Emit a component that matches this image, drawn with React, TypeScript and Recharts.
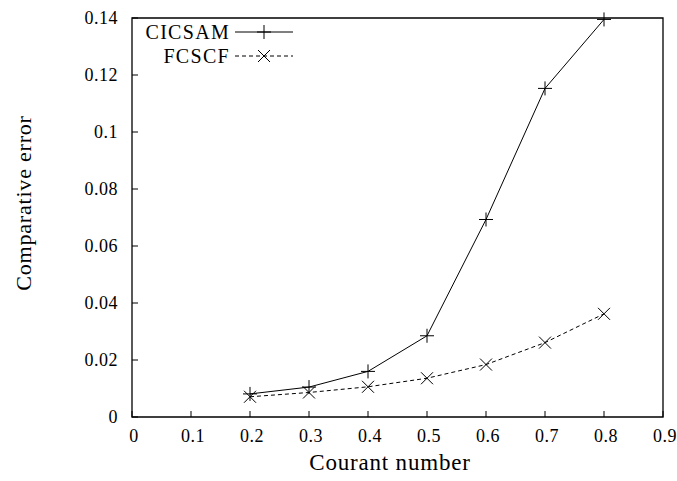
import React from 'react';
import { LineChart, Line, XAxis, YAxis, Legend, ReferenceArea } from 'recharts';

const courant = [0.2, 0.3, 0.4, 0.5, 0.6, 0.7, 0.8];
const cicsam = [0.0081, 0.0105, 0.016, 0.0285, 0.0693, 0.1153, 0.1395];
const fcscf = [0.0071, 0.0086, 0.0106, 0.0136, 0.0184, 0.0261, 0.0362];
const xTicks = [0, 0.1, 0.2, 0.3, 0.4, 0.5, 0.6, 0.7, 0.8, 0.9];
const yTicks = [0, 0.02, 0.04, 0.06, 0.08, 0.1, 0.12, 0.14];
const seriesNames = ['CICSAM', 'FCSCF'];

const data = courant.map((c, i) => ({ x: c, cicsam: cicsam[i], fcscf: fcscf[i] }));

const FONT = '"Liberation Serif", "DejaVu Serif", serif';
const TICK_LEN = 6;

const fmtX = (v: number) => (v === 0 ? '0' : v.toFixed(1));
const fmtY = (v: number) => (v === 0 ? '0' : String(Number(v.toFixed(2))));

const BottomTick = (p: any) => (
  <g>
    <line x1={p.x} y1={p.y} x2={p.x} y2={p.y - TICK_LEN} stroke="#000" strokeWidth={1} />
    <text x={p.x + 2} y={p.y + 25} textAnchor="middle" fontSize={18} letterSpacing={0.5} fontFamily={FONT} fill="#000">
      {fmtX(p.payload.value)}
    </text>
  </g>
);
const TopTick = (p: any) => (
  <line x1={p.x} y1={p.y} x2={p.x} y2={p.y + TICK_LEN} stroke="#000" strokeWidth={1} />
);
const LeftTick = (p: any) => (
  <g>
    <line x1={p.x} y1={p.y} x2={p.x + TICK_LEN} y2={p.y} stroke="#000" strokeWidth={1} />
    <text x={p.x - 14} y={p.y + 6} textAnchor="end" fontSize={18} letterSpacing={0.5} fontFamily={FONT} fill="#000">
      {fmtY(p.payload.value)}
    </text>
  </g>
);
const RightTick = (p: any) => (
  <line x1={p.x} y1={p.y} x2={p.x - TICK_LEN} y2={p.y} stroke="#000" strokeWidth={1} />
);

const PlusDot = (p: any) => {
  const { cx, cy } = p;
  if (cx == null || cy == null) return null;
  const s = 7;
  return (
    <g>
      <line x1={cx - s} y1={cy} x2={cx + s} y2={cy} stroke="#000" strokeWidth={1} />
      <line x1={cx} y1={cy - s} x2={cx} y2={cy + s} stroke="#000" strokeWidth={1} />
    </g>
  );
};
const CrossDot = (p: any) => {
  const { cx, cy } = p;
  if (cx == null || cy == null) return null;
  const s = 6;
  return (
    <g>
      <line x1={cx - s} y1={cy - s} x2={cx + s} y2={cy + s} stroke="#000" strokeWidth={1} />
      <line x1={cx - s} y1={cy + s} x2={cx + s} y2={cy - s} stroke="#000" strokeWidth={1} />
    </g>
  );
};

const LegendContent = () => (
  <svg width={180} height={50} style={{ display: 'block', overflow: 'visible' }}>
    <text x={100} y={19} textAnchor="end" fontSize={20} letterSpacing={1.3} fontFamily={FONT} fill="#000">{seriesNames[0]}</text>
    <line x1={105} y1={12} x2={163} y2={12} stroke="#000" strokeWidth={1} />
    <PlusDot cx={134} cy={12} />
    <text x={100} y={43} textAnchor="end" fontSize={20} letterSpacing={1.3} fontFamily={FONT} fill="#000">{seriesNames[1]}</text>
    <line x1={105} y1={36} x2={163} y2={36} stroke="#000" strokeWidth={1} strokeDasharray="4 3" />
    <CrossDot cx={134} cy={36} />
  </svg>
);

export default function App() {
  return (
    <div style={{ position: 'absolute', left: 0, top: 0, width: 677, height: 481, background: '#fff' }}>
      <LineChart
        width={677}
        height={481}
        data={data}
        margin={{ top: 18, right: 14, bottom: 0, left: 0 }}
        style={{ fontFamily: FONT }}
      >
        <XAxis
          xAxisId="b"
          dataKey="x"
          type="number"
          domain={[0, 0.9]}
          ticks={xTicks}
          tickSize={0}
          tickMargin={0}
          tickLine={false}
          axisLine={false}
          height={64}
          tick={<BottomTick />}
          label={{
            content: () => (
              <text x={390} y={470} textAnchor="middle" fontSize={23} letterSpacing={0.8} fontFamily={FONT} fill="#000">Courant number</text>
            ),
          }}
        />
        <XAxis
          xAxisId="t"
          orientation="top"
          dataKey="x"
          type="number"
          domain={[0, 0.9]}
          ticks={xTicks}
          tickSize={0}
          tickMargin={0}
          tickLine={false}
          axisLine={false}
          height={0}
          tick={<TopTick />}
        />
        <YAxis
          yAxisId="l"
          type="number"
          domain={[0, 0.14]}
          ticks={yTicks}
          tickSize={0}
          tickMargin={0}
          tickLine={false}
          axisLine={false}
          width={132}
          tick={<LeftTick />}
          label={{
            content: () => (
              <text x={31} y={203} transform="rotate(-90 31 203)" textAnchor="middle" fontSize={22} letterSpacing={0.8} fontFamily={FONT} fill="#000">Comparative error</text>
            ),
          }}
        />
        <YAxis
          yAxisId="r"
          orientation="right"
          type="number"
          domain={[0, 0.14]}
          ticks={yTicks}
          tickSize={0}
          tickMargin={0}
          tickLine={false}
          axisLine={false}
          width={0}
          tick={<RightTick />}
        />
        <ReferenceArea xAxisId="b" yAxisId="l" x1={0} x2={0.9} y1={0} y2={0.14} fill="none" stroke="#000" strokeWidth={1.3} ifOverflow="visible" />
        <Legend
          layout="vertical"
          align="center"
          verticalAlign="middle"
          wrapperStyle={{ left: 130, top: 20, width: 180, height: 50 }}
          content={<LegendContent />}
        />
        <Line
          xAxisId="b"
          yAxisId="l"
          dataKey="cicsam"
          name={seriesNames[0]}
          stroke="#000"
          strokeWidth={1}
          dot={<PlusDot />}
          activeDot={false}
          isAnimationActive={false}
        />
        <Line
          xAxisId="b"
          yAxisId="l"
          dataKey="fcscf"
          name={seriesNames[1]}
          stroke="#000"
          strokeWidth={1}
          strokeDasharray="4 3"
          dot={<CrossDot />}
          activeDot={false}
          isAnimationActive={false}
        />
      </LineChart>
    </div>
  );
}
